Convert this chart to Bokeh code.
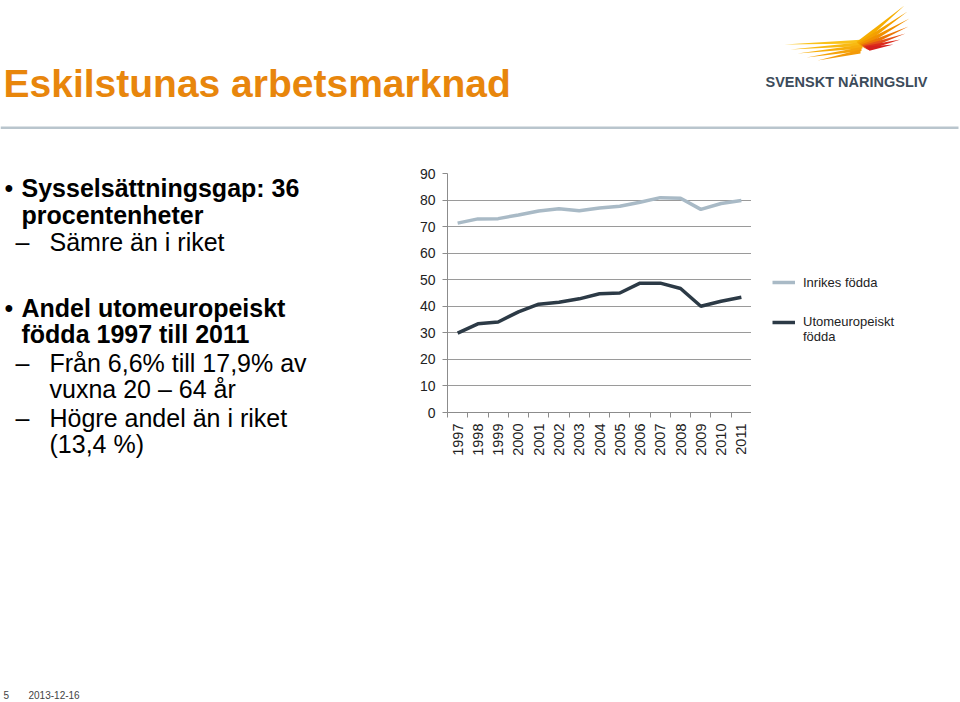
from math import pi
from bokeh.plotting import figure
from bokeh.layouts import column, row
from bokeh.models import (Range1d, FixedTicker, Label, PolyAnnotation, Legend,
                          LegendItem, NumeralTickFormatter)
from bokeh.embed import file_html
from bokeh.resources import INLINE

# ---------------- data ----------------
years = [1997, 1998, 1999, 2000, 2001, 2002, 2003, 2004, 2005, 2006, 2007, 2008, 2009, 2010, 2011]
inrikes = [71.3, 72.9, 73.0, 74.4, 75.9, 76.7, 76.0, 77.0, 77.7, 79.2, 80.9, 80.7, 76.5, 78.7, 79.8]
utomeuropeiskt = [29.9, 33.4, 34.1, 37.9, 40.8, 41.5, 42.8, 44.7, 45.0, 48.7, 48.7, 46.7, 40.0, 41.9, 43.4]
y_ticks = [0, 10, 20, 30, 40, 50, 60, 70, 80, 90]
series_names = ["Inrikes födda", "Utomeuropeiskt\nfödda"]
series_colors = ["#a9bac6", "#2c3a46"]

# ---------------- page geometry ----------------
W, H = 960, 702
TOP_H = 160          # header strip height
LEFT_W = 400         # text column width
FL, FR, FT, FB = 447, 751, 173, 412   # chart frame in page pixels
FONT = "Liberation Sans"


def blank(width, height, x0, x1, y0, y1):
    f = figure(width=width, height=height, output_backend="svg", toolbar_location=None,
               x_range=Range1d(x0, x1), y_range=Range1d(y1, y0),
               x_axis_location=None, y_axis_location=None,
               min_border=0, min_border_left=0, min_border_right=0,
               min_border_top=0, min_border_bottom=0,
               background_fill_color="white", border_fill_color="white",
               outline_line_color=None, frame_align=False)
    f.grid.visible = False
    return f


def txt(f, x, y, s, size, bold=False, color="#000000", align="left"):
    f.add_layout(Label(x=x, y=y, text=s,
                       text_font=FONT, text_font_size=f"{size}px",
                       text_font_style="bold" if bold else "normal",
                       text_color=color, text_align=align,
                       text_baseline="alphabetic"))


def poly(f, xs, ys, color):
    f.add_layout(PolyAnnotation(xs=xs, ys=ys, fill_color=color, fill_alpha=1,
                                line_color=None))


# ---------------- header ----------------
top = blank(W, TOP_H, 0, W, 0, TOP_H)
txt(top, 3, 83, "Eskilstunas arbetsmarknad", 39, bold=True, color="#e8860c")
poly(top, [0, 958, 958, 0], [126, 126, 128.5, 128.5], "#b9c5cd")

left_strokes = [((784, 44), "#f9c21a"), ((790, 49), "#f8b912"), ((797, 53), "#f7ae0c"),
                ((806, 57), "#f5a30a"), ((817, 60), "#f39a08")]
for i, ((tx, ty), c) in enumerate(left_strokes):
    bx = 864 - i
    by = 41 + 2.5 * i
    poly(top, [tx, bx, bx], [ty, by - 2, by + 2], c)

right_strokes = [((904, 5), "#f6ae00"), ((907, 11), "#f4a000"), ((909, 18), "#f19000"),
                 ((908, 26), "#ec7506"), ((905, 33), "#e4501a"), ((900, 39), "#dc2a1c"),
                 ((893, 44), "#d41f1f")]
for i, ((tx, ty), c) in enumerate(right_strokes):
    bx = 858 + i * 1.5
    by = 43 + i * 0.8
    poly(top, [tx, bx - 2, bx + 2], [ty, by - 1.5, by + 2.5], c)

txt(top, 765, 81, "SVENSKT NÄRINGSLIV", 14.5, bold=True, color="#3c4b5a")

# ---------------- left text column ----------------
lf = blank(LEFT_W, H - TOP_H, 0, LEFT_W, TOP_H, H)
txt(lf, 4, 187, "•", 25)
txt(lf, 21, 187, "Sysselsättningsgap: 36", 25, bold=True)
txt(lf, 21, 214, "procentenheter", 25, bold=True)
txt(lf, 15, 241, "–", 25)
txt(lf, 49, 241, "Sämre än i riket", 25)
txt(lf, 4, 307, "•", 25)
txt(lf, 21, 307, "Andel utomeuropeiskt", 25, bold=True)
txt(lf, 21, 333, "födda 1997 till 2011", 25, bold=True)
txt(lf, 15, 362, "–", 25)
txt(lf, 49, 362, "Från 6,6% till 17,9% av", 25)
txt(lf, 49, 388, "vuxna 20 – 64 år", 25)
txt(lf, 15, 417, "–", 25)
txt(lf, 49, 417, "Högre andel än i riket", 25)
txt(lf, 49, 443, "(13,4 %)", 25)
txt(lf, 3, 694, "5", 10, color="#444444")
txt(lf, 28, 694, "2013-12-16", 10, color="#444444")

# ---------------- chart ----------------
CW, CH = FR - LEFT_W, H - TOP_H
p = figure(width=CW, height=CH, output_backend="svg", toolbar_location=None,
           x_range=Range1d(years[0] - 0.5, years[-1] + 0.5),
           y_range=Range1d(y_ticks[0], y_ticks[-1]),
           min_border_left=FL - LEFT_W, min_border_right=0,
           min_border_top=FT - TOP_H, min_border_bottom=H - FB,
           background_fill_color="white", border_fill_color="white",
           outline_line_color=None, frame_align=False)

xa = p.xaxis[0]
xa.ticker = FixedTicker(ticks=years, minor_ticks=[y - 0.5 for y in years] + [years[-1] + 0.5])
xa.formatter = NumeralTickFormatter(format="0")
xa.major_label_orientation = pi / 2
xa.major_tick_line_color = None
xa.major_tick_out = 0
xa.major_tick_in = 0
xa.minor_tick_out = 5
xa.minor_tick_in = 0
xa.minor_tick_line_color = "#8c8c8c"
xa.axis_line_color = "#8c8c8c"
xa.major_label_standoff = 6
xa.major_label_text_font = FONT
xa.major_label_text_font_size = "14.5px"
xa.major_label_text_color = "#222222"

ya = p.yaxis[0]
ya.ticker = FixedTicker(ticks=y_ticks)
ya.minor_tick_line_color = None
ya.major_tick_out = 5
ya.major_tick_in = 0
ya.major_tick_line_color = "#8c8c8c"
ya.axis_line_color = "#8c8c8c"
ya.major_label_standoff = 7
ya.major_label_text_font = FONT
ya.major_label_text_font_size = "14px"
ya.major_label_text_color = "#222222"

p.xgrid.visible = False
p.ygrid.ticker = FixedTicker(ticks=y_ticks)
p.ygrid.grid_line_color = "#9a9a9a"
p.ygrid.grid_line_width = 1

p.line(years, inrikes, line_color=series_colors[0], line_width=3.5)
p.line(years, utomeuropeiskt, line_color=series_colors[1], line_width=3.5)

# ---------------- legend panel ----------------
# the legend sits in its own strip to the right of the chart; its key lines
# reuse the series (their data lie outside this strip's ranges, so only the
# legend swatches show)
lg = blank(W - FR, H - TOP_H, FR, W, TOP_H, H)
k1 = lg.line(years, inrikes, line_color=series_colors[0], line_width=3.5)
k2 = lg.line(years, utomeuropeiskt, line_color=series_colors[1], line_width=3.5)
# leading blank line keeps the glyph level with the first text line
legend = Legend(items=[LegendItem(label=series_names[0], renderers=[k1]),
                       LegendItem(label="\n" + series_names[1], renderers=[k2])],
                location=(772 - FR, H - 344), padding=0, margin=0, spacing=7,
                glyph_width=23, glyph_height=20, label_height=20, label_standoff=8,
                border_line_color=None, background_fill_alpha=0,
                label_text_font=FONT, label_text_font_size="13px",
                label_text_color="#222222")
lg.add_layout(legend, "center")

layout = column(top, row(lf, p, lg, spacing=0), spacing=0)
open("out.html", "w").write(file_html(layout, INLINE))
